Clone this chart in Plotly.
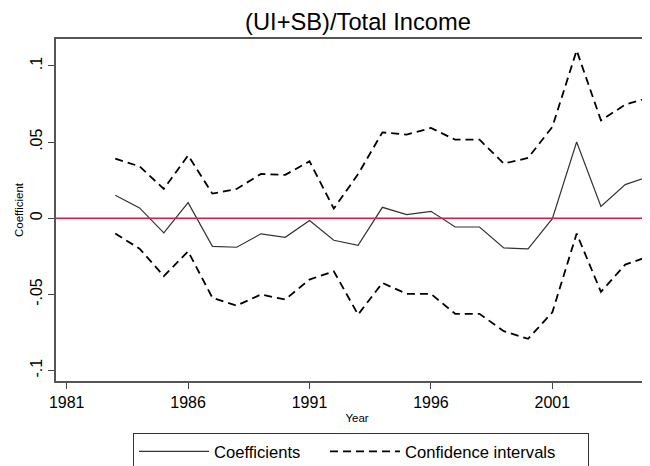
import plotly.graph_objects as go

# estimated from the reference figure
years = list(range(1983, 2006))
coef = [0.0151, 0.0068, -0.0096, 0.0103, -0.0184, -0.0190, -0.0102, -0.0125, -0.0015, -0.0144,
        -0.0177, 0.0072, 0.0024, 0.0046, -0.0057, -0.0057, -0.0194, -0.0201, -0.0002, 0.0501,
        0.0077, 0.0221, 0.0276]
ci_upper = [0.0392, 0.0341, 0.0193, 0.0413, 0.0162, 0.0193, 0.0291, 0.0285, 0.0374, 0.0064,
            0.0290, 0.0564, 0.0549, 0.0593, 0.0516, 0.0516, 0.0359, 0.0396, 0.0600, 0.1102,
            0.0643, 0.0746, 0.0794]
ci_lower = [-0.0100, -0.0199, -0.0380, -0.0217, -0.0522, -0.0573, -0.0500, -0.0533, -0.0402, -0.0348,
            -0.0632, -0.0424, -0.0496, -0.0496, -0.0627, -0.0627, -0.0741, -0.0791, -0.0617, -0.0100,
            -0.0483, -0.0304, -0.0249]

x_ticks = [1981, 1986, 1991, 1996, 2001]
y_ticks = [-0.1, -0.05, 0, 0.05, 0.1]
y_ticktext = ["-.1", "-.05", "0", ".05", ".1"]

font = "Liberation Sans, Arial, sans-serif"

# the page body adds an 8px margin, so layout numbers are shifted by 8px
fig = go.Figure()
fig.add_trace(go.Scatter(x=years, y=coef, mode="lines", name="Coefficients", legendwidth=106,
                         line=dict(color="#333333", width=1.2)))
fig.add_trace(go.Scatter(x=years, y=ci_upper, mode="lines", name="Confidence intervals",
                         legendwidth=178,
                         line=dict(color="black", width=1.8, dash="8px,5px")))
fig.add_trace(go.Scatter(x=years, y=ci_lower, mode="lines", name="Confidence intervals",
                         showlegend=False,
                         line=dict(color="black", width=1.8, dash="8px,5px")))

fig.add_hline(y=0, line=dict(color="#d21f47", width=1.5))

fig.update_xaxes(range=[1980.56, 2005.35], tickvals=x_ticks, ticks="outside", ticklen=6,
                 tickcolor="#444", showline=True, linecolor="#555", linewidth=1.5, mirror=True,
                 showgrid=False, zeroline=False, tickfont=dict(size=16, color="black"),
                 title=dict(text="Year", font=dict(size=11.5, color="black"), standoff=4))
fig.update_yaxes(range=[-0.1068, 0.1177], tickvals=y_ticks, ticktext=y_ticktext, tickangle=-90,
                 ticks="outside", ticklen=6, tickcolor="#444", showline=True, linecolor="#555",
                 linewidth=1.5, showgrid=False, zeroline=False, tickfont=dict(size=16, color="black"),
                 title=dict(text="Coefficient", font=dict(size=11.5, color="black"), standoff=2))

fig.update_layout(
    width=650, height=466,
    margin=dict(l=48, r=0, t=31, b=93, autoexpand=False),
    paper_bgcolor="white", plot_bgcolor="white",
    font=dict(family=font, color="black"),
    title=dict(text="(UI+SB)/Total Income", x=350 / 650, xanchor="center", xref="container",
               y=1 - 14 / 466, yanchor="middle", yref="container", font=dict(size=23.7)),
    showlegend=True,
    legend=dict(orientation="h", x=77 / 602, xanchor="left", y=(373 - 425) / 342,
                yanchor="top", bordercolor="#333", borderwidth=1, itemwidth=70,
                font=dict(size=16.6), entrywidthmode="pixels"),
)

fig.write_html("out.html")
